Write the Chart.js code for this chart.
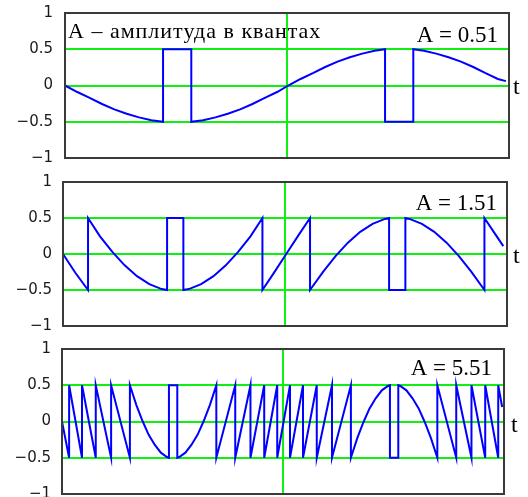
<!DOCTYPE html>
<html>
<head>
<meta charset="utf-8">
<script src="https://cdn.jsdelivr.net/npm/chart.js@4"></script>
<style>
  html, body { margin: 0; padding: 0; background: #fff; }
  body { width: 528px; height: 497px; position: relative; overflow: hidden; }
  canvas { position: absolute; left: 0; }
</style>
</head>
<body>
<canvas id="c1" width="528" height="170" style="top:0px"></canvas>
<canvas id="c2" width="528" height="165" style="top:170px"></canvas>
<canvas id="c3" width="528" height="162" style="top:335px"></canvas>
<script>
// ---- data (t in degrees over one period, e = quantisation error in quanta) ----
const Y_TICKS = [-1, -0.5, 0, 0.5, 1];
const GREEN_Y = [-0.5, 0, 0.5];
const GREEN_X = [180];

const AMP1 = 0.51;
const T1 = [0, 10, 20, 30, 40, 50, 60, 70, 79.5, 79.5, 102.4, 102.4,
  112, 122, 132, 142, 152, 162, 172, 181, 191, 201, 211, 221, 231, 241, 251,
  259.5, 259.5, 282.4, 282.4, 291, 301, 311, 321, 331, 341, 351, 357.5];
const E1 = [0, -0.09, -0.17, -0.255, -0.33, -0.39, -0.44, -0.48, -0.5, 0.5, 0.5, -0.5,
  -0.48, -0.44, -0.39, -0.33, -0.255, -0.17, -0.09, 0, 0.09, 0.17, 0.255, 0.33, 0.39, 0.44, 0.48,
  0.5, -0.5, -0.5, 0.5, 0.48, 0.44, 0.39, 0.33, 0.255, 0.17, 0.09, 0.06];

const AMP2 = 1.51;
const T2 = [0, 10, 20.3, 20.3, 30, 40, 50, 60, 70, 80, 84.4, 84.4, 97.6, 97.6,
  102, 112, 122, 132, 142, 152, 161.7, 161.7, 171, 181, 191, 200.3, 200.3,
  211, 221, 231, 241, 251, 261, 264.4, 264.4, 277.6, 277.6,
  281, 291, 301, 311, 321, 331, 341.7, 341.7, 351, 357];
const E2 = [0, -0.26, -0.5, 0.5, 0.245, 0.03, -0.157, -0.308, -0.419, -0.487, -0.5, 0.5, 0.5, -0.5,
  -0.487, -0.419, -0.308, -0.157, 0.03, 0.245, 0.5, -0.5, -0.262, 0, 0.262, 0.5, -0.5,
  -0.245, -0.03, 0.157, 0.308, 0.419, 0.487, 0.5, -0.5, -0.5, 0.5,
  0.487, 0.419, 0.308, 0.157, -0.03, -0.245, -0.5, 0.5, 0.262, 0.11];

const AMP3 = 5.51;
const T3 = [0, 5.8, 5.8, 16.3, 16.3, 27.5, 27.5, 40.0, 40.0, 55.3, 55.3,
  60.5, 65.5, 70.5, 75.5, 80.5, 85.5, 87.1, 87.1, 93.9, 93.9,
  95.5, 100.5, 105.5, 110.5, 115.5, 120.5, 125.7, 125.7,
  141.1, 141.1, 153.5, 153.5, 164.7, 164.7, 175.3, 175.3,
  185.7, 185.7, 196.3, 196.3, 207.5, 207.5, 219.9, 219.9, 235.3, 235.3,
  240.5, 245.5, 250.5, 255.5, 260.5, 265.5, 267.1, 267.1, 273.9, 273.9,
  275.5, 280.5, 285.5, 290.5, 295.5, 300.5, 305.7, 305.7,
  321.1, 321.1, 333.5, 333.5, 344.7, 344.7, 355.3, 355.3, 358.5];
const E3 = [0, -0.5, 0.5, -0.5, 0.5, -0.5, 0.5, -0.5, 0.5, -0.5, 0.5,
  0.23, 0.01, -0.18, -0.32, -0.43, -0.49, -0.5, 0.5, 0.5, -0.5,
  -0.49, -0.43, -0.32, -0.18, 0.01, 0.23, 0.5, -0.5,
  0.5, -0.5, 0.5, -0.5, 0.5, -0.5, 0.5, -0.5,
  0.5, -0.5, 0.5, -0.5, 0.5, -0.5, 0.5, -0.5, 0.5, -0.5,
  -0.23, -0.01, 0.18, 0.32, 0.43, 0.49, 0.5, -0.5, -0.5, 0.5,
  0.49, 0.43, 0.32, 0.18, -0.01, -0.23, -0.5, 0.5,
  -0.5, 0.5, -0.5, 0.5, -0.5, 0.5, -0.5, 0.5, 0.2];

const TITLE = 'A \u2013 амплитуда в квантах';

// ---- styling ----
const GREEN = '#10f010';
const BLUE = '#0000ff';
const FRAME = '#3a3a3a';

const framePlugin = {
  id: 'frame',
  afterDatasetsDraw(chart) {
    const a = chart.chartArea, ctx = chart.ctx;
    ctx.save();
    ctx.strokeStyle = FRAME;
    ctx.lineWidth = 2;
    ctx.strokeRect(a.left, a.top, a.right - a.left, a.bottom - a.top);
    ctx.restore();
  }
};

const textPlugin = {
  id: 'panelText',
  afterDraw(chart, args, opts) {
    const ctx = chart.ctx;
    (opts.items || []).forEach(it => {
      ctx.save();
      ctx.fillStyle = '#000';
      ctx.textBaseline = 'alphabetic';
      ctx.font = it.font;
      ctx.textAlign = it.align || 'left';
      if (it.spacing) ctx.letterSpacing = it.spacing;
      ctx.fillText(it.text, it.x, it.y);
      ctx.restore();
    });
  }
};

function fmt(v) {
  if (v === 0) return '0';
  const s = String(Math.abs(v));
  return (v < 0 ? '\u2212' : '') + s;
}

function makePanel(id, T, E, box, texts) {
  const data = T.map((t, i) => ({ x: t, y: E[i] }));
  const canvas = document.getElementById(id);
  return new Chart(canvas, {
    type: 'line',
    data: { datasets: [{ data, borderColor: BLUE, borderWidth: 2, pointRadius: 0, tension: 0, fill: false }] },
    options: {
      responsive: false,
      animation: false,
      events: [],
      layout: { padding: { left: 0, right: canvas.width - box.right, top: box.top, bottom: box.bottom } },
      plugins: { legend: { display: false }, tooltip: { enabled: false }, panelText: { items: texts } },
      scales: {
        x: {
          type: 'linear', min: 0, max: 360,
          afterBuildTicks: s => { s.ticks = GREEN_X.map(v => ({ value: v })); },
          afterFit: s => { s.height = 0; s.paddingLeft = 0; s.paddingRight = 0; },
          ticks: { display: false },
          grid: { drawTicks: false, color: GREEN, lineWidth: 2 },
          border: { display: false }
        },
        y: {
          type: 'linear', min: -1, max: 1,
          afterBuildTicks: s => { s.ticks = Y_TICKS.map(v => ({ value: v })); },
          afterFit: s => { s.width = box.left; s.paddingTop = 0; s.paddingBottom = 0; },
          ticks: {
            callback: v => fmt(v),
            font: { family: 'DejaVu Sans', size: 15 },
            color: '#1a1a1a',
            padding: box.labelPad
          },
          grid: {
            drawTicks: false,
            lineWidth: 2,
            color: c => GREEN_Y.includes(c.tick.value) ? GREEN : 'rgba(0,0,0,0)'
          },
          border: { display: false }
        }
      }
    },
    plugins: [framePlugin, textPlugin]
  });
}

makePanel('c1', T1, E1, { left: 65, right: 509, top: 13, bottom: 12, labelPad: 12 }, [
  { text: TITLE, x: 68, y: 38, font: '22px "Liberation Serif"', spacing: '1px' },
  { text: 'A = ' + AMP1, x: 498, y: 42, font: '23px "Liberation Serif"', align: 'right' },
  { text: 't', x: 513, y: 94, font: '24px "Liberation Serif"' }
]);
makePanel('c2', T2, E2, { left: 63, right: 507, top: 12, bottom: 9, labelPad: 11 }, [
  { text: 'A = ' + AMP2, x: 497, y: 40, font: '23px "Liberation Serif"', align: 'right' },
  { text: 't', x: 513, y: 93, font: '24px "Liberation Serif"' }
]);
makePanel('c3', T3, E3, { left: 62, right: 504, top: 14, bottom: 3, labelPad: 11 }, [
  { text: 'A = ' + AMP3, x: 492, y: 40, font: '23px "Liberation Serif"', align: 'right' },
  { text: 't', x: 511, y: 97, font: '24px "Liberation Serif"' }
]);
</script>
</body>
</html>
